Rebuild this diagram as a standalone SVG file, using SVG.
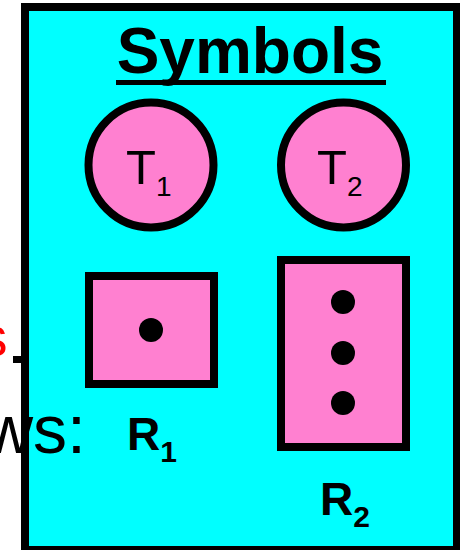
<svg xmlns="http://www.w3.org/2000/svg" width="460" height="550" viewBox="0 0 460 550">
  <style>
    .panel { fill: #00FFFF; stroke: #000; stroke-width: 8; }
    .shape { fill: #FF80D0; stroke: #000; stroke-width: 8; }
    .dot { fill: #000; }
    .t { font-family: "Liberation Sans", Arial, Helvetica, sans-serif; fill: #000; }
    .lbl { font-size: 49px; }
    .sub { font-size: 28px; }
    .rl { font-size: 46px; font-weight: bold; }
    .rsub { font-size: 30px; font-weight: bold; }
  </style>
  <rect width="460" height="550" fill="#fff"/>

  <!-- legend panel -->
  <g id="panel">
    <rect class="panel" x="25" y="7" width="432" height="543"/>
    <text class="t" x="250" y="73" font-size="64" font-weight="bold" text-anchor="middle">Symbols</text>
    <rect x="116" y="80" width="270" height="5" fill="#000"/>
  </g>

  <g id="connectors">
    <line x1="13" y1="359.5" x2="24" y2="359.5" stroke="#000" stroke-width="7"/>
  </g>

  <!-- text running in from the left -->
  <text class="t" x="-20" y="356" font-size="55" style="fill:#FF0000">s</text>
  <text class="t" x="-16" y="453" font-size="68">ws:</text>

  <g id="T1">
    <circle class="shape" cx="151" cy="165" r="62.5"/>
    <text class="t lbl" x="126" y="184">T<tspan class="sub" dy="12">1</tspan></text>
  </g>

  <g id="T2">
    <circle class="shape" cx="343.5" cy="165" r="62.5"/>
    <text class="t lbl" x="317" y="184">T<tspan class="sub" dy="12">2</tspan></text>
  </g>

  <g id="R1">
    <rect class="shape" x="89" y="276" width="125" height="108"/>
    <circle class="dot" cx="151" cy="330" r="12"/>
    <text class="t rl" x="127" y="450">R<tspan class="rsub" dy="12">1</tspan></text>
  </g>

  <g id="R2">
    <rect class="shape" x="281" y="260" width="125" height="187"/>
    <circle class="dot" cx="343" cy="302" r="12"/>
    <circle class="dot" cx="343" cy="353" r="12"/>
    <circle class="dot" cx="343" cy="403" r="12"/>
    <text class="t rl" x="320" y="515">R<tspan class="rsub" dy="12">2</tspan></text>
  </g>
</svg>
